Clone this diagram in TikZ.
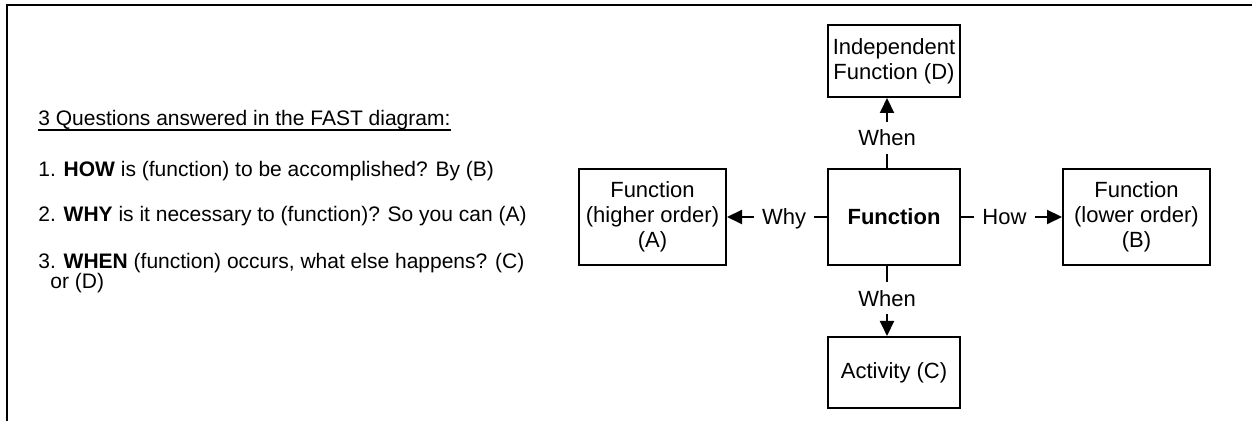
\documentclass[tikz,border=0pt]{standalone}
\usepackage{fontspec}
\setmainfont{Liberation Sans}
\usetikzlibrary{arrows.meta}
\begin{document}
\begin{tikzpicture}[x=0.5pt,y=-0.5pt,
  every node/.style={font=\fontsize{11}{12.5}\selectfont},
  box/.style={draw, line width=1pt, align=center, inner sep=0pt},
  boxw/.style={box, minimum width=73.5pt, minimum height=48pt},
  boxc/.style={box, minimum width=66pt},
  txt/.style={inner sep=0pt, anchor=base west, align=left, font=\fontsize{10.5}{10}\selectfont},
  lbl/.style={fill=white, inner xsep=4.2pt, inner ysep=4pt, text height=8pt, text depth=0pt},
  conn/.style={line width=1pt, -{Triangle[length=7.5pt,width=7pt]}}]
\useasboundingbox (0,0) rectangle (1252,421);
\draw[line width=1pt] (7,421) -- (7,5) -- (1252,5);

% left text
\node[txt] (q0) at (38,126) {3 Questions answered in the FAST diagram:};
\draw[line width=0.6pt] ([yshift=-2pt]q0.base west) -- ([yshift=-2pt]q0.base east);
\node[txt] (q1) at (38,177) {1. \textbf{HOW} is (function) to be accomplished? By (B)};
\node[txt] (q2) at (38,222) {2. \textbf{WHY} is it necessary to (function)? So you can (A)};
\node[txt] (q3) at (38,289) {3. \textbf{WHEN} (function) occurs, what else happens? (C)\\\hspace*{6pt}or (D)};

% boxes
\node[boxw] (A) at (652.5,217) {Function\\(higher order)\\(A)};
\node[boxc, minimum height=48pt] (F) at (894,217) {\textbf{Function}};
\node[boxw] (B) at (1136.5,217) {Function\\(lower order)\\(B)};
\node[boxc, minimum height=36pt] (D) at (894,61) {Independent\\Function (D)};
\node[boxc, minimum height=35.5pt] (C) at (894,372.5) {Activity (C)};

% connectors
\draw[conn] (F.west) -- (A.east) node[lbl, pos=0.43] {Why};
\draw[conn] (F.east) -- (B.west) node[lbl, pos=0.43] {How};
\draw[conn] ([xshift=-3.5pt]F.north) -- ([xshift=-3.5pt]D.south) node[lbl, pos=0.43] {When};
\draw[conn] ([xshift=-3.5pt]F.south) -- ([xshift=-3.5pt]C.north) node[lbl, pos=0.46] {When};
\end{tikzpicture}
\end{document}
